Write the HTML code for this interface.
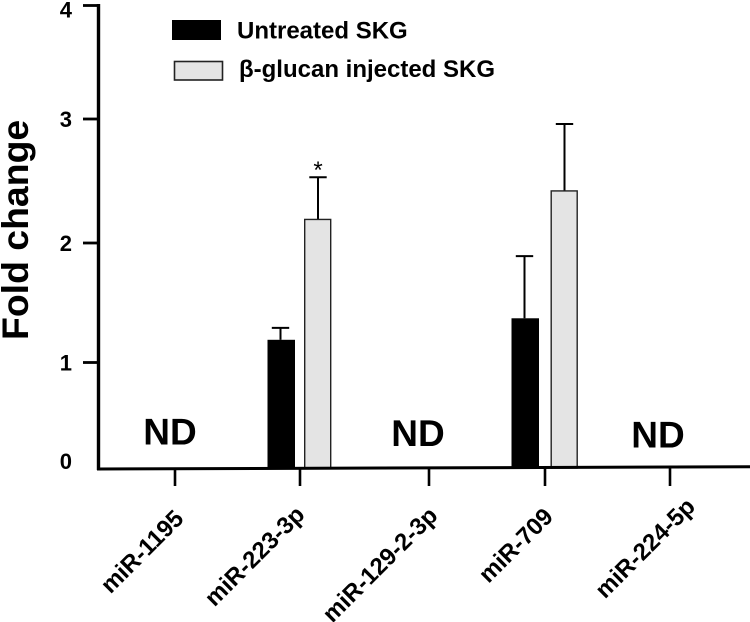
<!DOCTYPE html>
<html lang="en">
<head>
<meta charset="utf-8">
<title>Fold change by miRNA</title>
<style>
html,body{margin:0;padding:0;background:#fff;}
svg{display:block;width:750px;height:622px;font-family:"Liberation Sans",Arial,sans-serif;font-weight:bold;fill:#000;}
</style>
</head>
<body>
<svg id="chart" width="750" height="622" viewBox="0 0 750 622" xmlns="http://www.w3.org/2000/svg">
  <text transform="translate(28,340) rotate(-90)" font-size="37.4">Fold change</text>
  <g id="bars"></g>
  <g id="y-axis"></g>
  <g id="x-axis"></g>
  <g id="annotations"></g>
  <g>
    <rect x="172" y="20" width="49" height="20" fill="#000"/>
    <text x="237" y="38.5" font-size="24">Untreated SKG</text>
    <rect x="174.5" y="61.5" width="48" height="18.5" fill="#e4e4e4" stroke="#222" stroke-width="1.6"/>
    <text x="239" y="77" font-size="24">β-glucan injected SKG</text>
  </g>
</svg>
<script>
const categories = ['miR-1195', 'miR-223-3p', 'miR-129-2-3p', 'miR-709', 'miR-224-5p'];
const untreatedValues = [null, 1.19, null, 1.37, null];
const untreatedErrorTops = [null, 1.29, null, 1.89, null];
const glucanValues = [null, 2.19, null, 2.42, null];
const glucanErrorTops = [null, 2.53, null, 2.96, null];
const significance = ['', '', '', '', ''];
significance[1] = '*';
const yTickValues = [0, 1, 2, 3, 4];
const yTickLabels = ['0', '1', '2', '3', '4'];

const SVG_NS = 'http://www.w3.org/2000/svg';

// The printed axis has slightly uneven tick spacing, so the scale interpolates between its ticks.
function yScale(v) {
  const marks = [468, 362.5, 243, 119, 5.5];
  const i = Math.max(0, Math.min(3, Math.floor(v)));
  return marks[i] + (v - i) * (marks[i + 1] - marks[i]);
}
function xScale(i) {
  const centres = [175, 300, 429, 545, 670];
  return centres[i];
}
function create(tag, parent, attrs) {
  const el = document.createElementNS(SVG_NS, tag);
  for (const k in attrs) el.setAttribute(k, attrs[k]);
  parent.appendChild(el);
  return el;
}

const barsG = document.getElementById('bars');
const yG = document.getElementById('y-axis');
const xG = document.getElementById('x-axis');
const noteG = document.getElementById('annotations');

function drawErrorBar(cx, valueTop, errTop, key) {
  const stem = create('line', barsG, {x1: cx, x2: cx, y1: yScale(errTop), y2: yScale(valueTop), stroke: '#000', 'stroke-width': 2});
  
  
  const cap = create('line', barsG, {x1: cx - 8.7, x2: cx + 8.7, y1: yScale(errTop), y2: yScale(errTop), stroke: '#000', 'stroke-width': 2});
  
  
}

categories.forEach(function (name, i) {
  const cx = xScale(i);
  const hasData = untreatedValues[i] !== null;
  if (hasData) {
    const base = yScale(0);
    const bx = cx + {1: -32.5, 3: -33.5}[i];
    const gx = cx + {1: 4, 3: 5.5}[i];
    drawErrorBar(bx + 13, untreatedValues[i], untreatedErrorTops[i], name + '-untreated');
    const bar = create('rect', barsG, {x: bx, y: yScale(untreatedValues[i]), width: 27.5, height: base - yScale(untreatedValues[i]), fill: '#000'});
    
    
    drawErrorBar(gx + 14, glucanValues[i], glucanErrorTops[i], name + '-glucan');
    const gbar = create('rect', barsG, {x: gx + 0.7, y: yScale(glucanValues[i]), width: 26, height: base - yScale(glucanValues[i]), fill: '#e4e4e4', stroke: '#222', 'stroke-width': 1.4});
    
    
    if (significance[i]) {
      const star = create('text', noteG, {x: gx + 14, y: yScale(glucanErrorTops[i]) + 0.5, 'text-anchor': 'middle', 'font-size': 24, 'font-weight': 'normal'});
      star.textContent = significance[i];
      
      
    }
  } else {
    const shift = {0: -5, 2: -11, 4: -12}[i];
    const drop = {0: 444.5, 2: 446, 4: 447.5}[i];
    const nd = create('text', noteG, {x: cx + shift, y: drop, 'text-anchor': 'middle', 'font-size': 37});
    nd.textContent = 'ND';
    
    
  }

  const tick = create('line', xG, {x1: cx, x2: cx, y1: 468, y2: 486, stroke: '#000', 'stroke-width': 2.6});
  
  

  const ax = cx + {0: 10, 1: 6, 2: 10, 3: 9.5, 4: 26.5}[i];
  const ay = {0: 520, 1: 516, 2: 517, 3: 518, 4: 508}[i];
  const label = create('text', xG, {transform: 'translate(' + ax + ',' + ay + ') rotate(-45)', 'text-anchor': 'end', 'font-size': 24});
  label.textContent = name;
  
  
});

const xLine = create('line', xG, {x1: 97, x2: 750, y1: 469, y2: 466.8, stroke: '#000', 'stroke-width': 3});



const yLine = create('line', yG, {x1: 98.5, x2: 98.5, y1: yScale(4) - 1.5, y2: 470, stroke: '#000', 'stroke-width': 3.4});



yTickValues.forEach(function (v, i) {
  if (v > 0) {
    const t = create('line', yG, {x1: 83, x2: 98.5, y1: yScale(v), y2: yScale(v), stroke: '#000', 'stroke-width': 2.8});
    
    
  }
  const labelY = v === 0 ? 469 : yScale(v) + (v === 4 ? 12 : 8);
  const lab = create('text', yG, {x: 72, y: labelY, 'text-anchor': 'end', 'font-size': 22});
  lab.textContent = yTickLabels[i];
  
  
});
</script>
</body>
</html>
